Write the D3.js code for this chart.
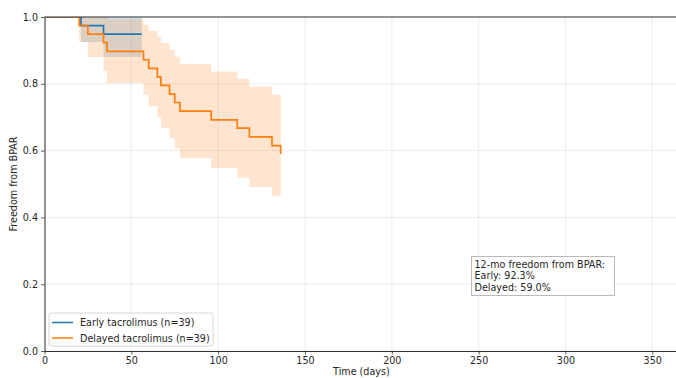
<!DOCTYPE html>
<html><head><meta charset="utf-8">
<script src="https://cdn.jsdelivr.net/npm/d3@7/dist/d3.min.js"></script>
<style>
body{margin:0;background:#fff}
svg{display:block}
text{font-family:"DejaVu Sans",sans-serif;fill:#262626}
</style>
</head><body>
<svg id="chart" width="676" height="378"></svg>
<script>
// ---- data ----
const seriesNames = ["Early tacrolimus (n=39)", "Delayed tacrolimus (n=39)"];
const earlyTimes = [0, 21, 34, 56];
const earlySurv  = [1, 0.974, 0.949, 0.949];
const earlyLower = [1, 0.925, 0.880, 0.880];
const earlyUpper = [1, 1, 1, 1];

const delayedTimes = [0, 20, 25, 34, 36, 57, 60, 65, 67, 72, 75, 78, 96, 111, 118, 131, 136];
const delayedSurv  = [1, 0.974, 0.949, 0.923, 0.897, 0.872, 0.846, 0.821, 0.795, 0.769, 0.744, 0.718, 0.692, 0.667, 0.641, 0.615, 0.590];
const delayedLower = [1, 0.925, 0.880, 0.839, 0.802, 0.767, 0.733, 0.700, 0.668, 0.637, 0.607, 0.577, 0.548, 0.519, 0.491, 0.463, 0.435];
const delayedUpper = [1, 1, 1, 1, 0.993, 0.977, 0.959, 0.941, 0.922, 0.902, 0.881, 0.859, 0.837, 0.815, 0.792, 0.768, 0.744];

const xTicks = [0, 50, 100, 150, 200, 250, 300, 350];
const yTicks = [0, 0.2, 0.4, 0.6, 0.8, 1.0];
const annotationLines = ["12-mo freedom from BPAR:", "Early: 92.3%", "Delayed: 59.0%"];
const xLabel = "Time (days)";
const yLabel = "Freedom from BPAR";

// ---- layout ----
const svg = d3.select("#chart");
const L = 44.5, T = 17, B = 351;
const x = d3.scaleLinear().domain([0, 365]).range([L, L + 365 * 1.7365]);
const y = d3.scaleLinear().domain([0, 1]).range([B, T]);
const colors = ["#1f77b4", "#ff7f0e"];
const FS = 9.6;

const defs = svg.append("defs");
defs.append("clipPath").attr("id", "clip").append("rect")
  .attr("x", L).attr("y", T).attr("width", 700).attr("height", B - T);

// grid
const grid = svg.append("g");
grid.selectAll("line.gx").data(xTicks).join("line")
  .attr("x1", d => x(d)).attr("x2", d => x(d)).attr("y1", T).attr("y2", B)
  .attr("stroke", "#b0b0b0").attr("stroke-opacity", 0.3).attr("stroke-width", 0.8);
grid.selectAll("line.gy").data(yTicks).join("line")
  .attr("x1", L).attr("x2", 676).attr("y1", d => y(d)).attr("y2", d => y(d))
  .attr("stroke", "#b0b0b0").attr("stroke-opacity", 0.3).attr("stroke-width", 0.8);

// series
const series = [
  {t: earlyTimes, s: earlySurv, lo: earlyLower, hi: earlyUpper},
  {t: delayedTimes, s: delayedSurv, lo: delayedLower, hi: delayedUpper}
];
const plot = svg.append("g").attr("clip-path", "url(#clip)");
series.forEach((ser, i) => {
  const pts = ser.t.map((t, j) => ({t, s: ser.s[j], lo: ser.lo[j], hi: ser.hi[j]}));
  plot.append("path").datum(pts)
    .attr("d", d3.area().curve(d3.curveStepAfter).x(d => x(d.t)).y0(d => y(d.lo)).y1(d => y(d.hi)))
    .attr("fill", colors[i]).attr("fill-opacity", 0.2).attr("stroke", "none");
});
series.forEach((ser, i) => {
  const pts = ser.t.map((t, j) => ({t, s: ser.s[j]}));
  plot.append("path").datum(pts)
    .attr("d", d3.line().curve(d3.curveStepAfter).x(d => x(d.t)).y(d => y(d.s)))
    .attr("fill", "none").attr("stroke", colors[i]).attr("stroke-width", 1.7);
});

// axes
const xAxis = svg.append("g").attr("transform", `translate(0,${B})`)
  .call(d3.axisBottom(x).tickValues(xTicks).tickFormat(d3.format("d")).tickSizeInner(3.5).tickSizeOuter(0).tickPadding(3));
const yAxis = svg.append("g").attr("transform", `translate(${L},0)`)
  .call(d3.axisLeft(y).tickValues(yTicks).tickFormat(d3.format(".1f")).tickSizeInner(3.5).tickSizeOuter(0).tickPadding(3));
[xAxis, yAxis].forEach(a => {
  a.select(".domain").attr("stroke", "#333").attr("stroke-width", 1);
  a.selectAll(".tick line").attr("stroke", "#333").attr("stroke-width", 0.8);
  a.selectAll(".tick text").attr("font-size", FS).attr("font-family", "DejaVu Sans").attr("fill", "#262626");
});
xAxis.select(".domain").attr("d", `M${L},0.5H676`);
// top spine
svg.append("line").attr("x1", L).attr("x2", 676).attr("y1", T).attr("y2", T)
  .attr("stroke", "#333").attr("stroke-width", 1);

// axis labels
svg.append("text").attr("x", x(182.5)).attr("y", 375).attr("text-anchor", "middle")
  .attr("font-size", FS).text(xLabel);
svg.append("text").attr("transform", `translate(17,${(T + B) / 2}) rotate(-90)`)
  .attr("text-anchor", "middle").attr("font-size", FS).text(yLabel);

// legend
const lg = svg.append("g").attr("transform", "translate(49,313)");
lg.append("rect").attr("x", 0).attr("y", 0).attr("width", 164).attr("height", 33).attr("rx", 2.5)
  .attr("fill", "#fff").attr("fill-opacity", 0.8).attr("stroke", "#cccccc").attr("stroke-width", 0.8);
seriesNames.forEach((name, i) => {
  const yy = 9.5 + i * 15.5;
  lg.append("line").attr("x1", 3).attr("x2", 24).attr("y1", yy).attr("y2", yy)
    .attr("stroke", colors[i]).attr("stroke-width", 1.5);
  lg.append("text").attr("x", 31).attr("y", yy + 3.5).attr("font-size", FS).text(name);
});

// annotation box
const an = svg.append("g").attr("transform", "translate(471.5,256.5)");
an.append("rect").attr("width", 143).attr("height", 39)
  .attr("fill", "#fff").attr("stroke", "#aaaaaa").attr("stroke-width", 0.8);
annotationLines.forEach((t, i) => {
  an.append("text").attr("x", 3).attr("y", 11 + i * 11.6).attr("font-size", FS).text(t);
});
</script>
</body></html>
